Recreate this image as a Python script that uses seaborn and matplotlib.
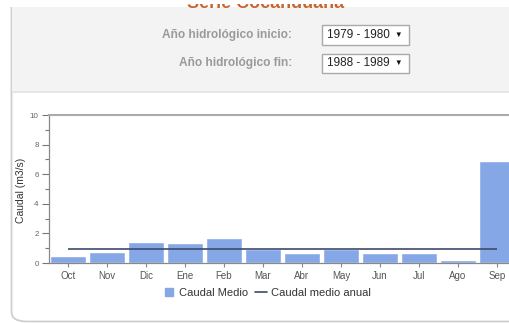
import matplotlib
matplotlib.use("Agg")
import matplotlib.pyplot as plt
from matplotlib.patches import Rectangle, FancyBboxPatch
from matplotlib.lines import Line2D
import seaborn as sns
import pandas as pd

# Monthly mean discharge for the selected hydrological years
months = ["Oct", "Nov", "Dic", "Ene", "Feb", "Mar", "Abr", "May", "Jun", "Jul", "Ago", "Sep"]
caudal_medio = [0.45, 0.72, 1.39, 1.32, 1.66, 0.94, 0.65, 0.95, 0.65, 0.65, 0.18, 6.92]
caudal_medio_anual = 0.92
y_ticks = [0, 2, 4, 6, 8, 10]
anio_inicio = "1979 - 1980"
anio_fin = "1988 - 1989"

W, H = 509, 323
BAR_COLOR = "#86a7e6"
LINE_COLOR = "#3e4a6c"

sns.set_style("white")
plt.rcParams["font.family"] = ["Liberation Sans", "DejaVu Sans"]


def fx(x):
    return x / W


def fy(y):
    return 1 - y / H


fig = plt.figure(figsize=(W / 100, H / 100), dpi=100)
fig.patch.set_facecolor("white")

# Page panels: rounded card, grey form header, separator
card = FancyBboxPatch((fx(11.5), fy(321.5)), fx(560), fy(-40) - fy(321.5),
                      boxstyle="round,pad=0,rounding_size=0.03",
                      transform=fig.transFigure, facecolor="white",
                      edgecolor="#cfcfcf", linewidth=1.3, zorder=-5)
fig.patches.append(card)
fig.patches.append(Rectangle((fx(12), fy(91)), fx(520), fy(7) - fy(91),
                             transform=fig.transFigure, facecolor="#f3f3f3",
                             edgecolor="none", zorder=-4))
fig.patches.append(Rectangle((fx(12), fy(92.5)), fx(520), fy(91) - fy(92.5),
                             transform=fig.transFigure, facecolor="#e6e6e6",
                             edgecolor="none", zorder=-4))
fig.patches.append(Rectangle((0, fy(7)), 1, fy(0) - fy(7),
                             transform=fig.transFigure, facecolor="white",
                             edgecolor="none", zorder=-3))

# Title, scrolled under the fixed page header
fig.text(fx(266), fy(8.5), "Serie Cocanduana", ha="center", va="baseline",
         fontsize=13, fontweight="bold", color="#c8652c", zorder=3)
fig.patches.append(Rectangle((0, fy(4.3)), 1, fy(0) - fy(4.3),
                             transform=fig.transFigure, facecolor="white",
                             edgecolor="none", zorder=10))

# Form: hydrological year selectors
for label, value, yc in [("Año hidrológico inicio:", anio_inicio, 35),
                         ("Año hidrológico fin:", anio_fin, 63)]:
    fig.text(fx(292), fy(yc), label, ha="right", va="center",
             fontsize=8.6, fontweight="bold", color="#9a9a9a")
    fig.patches.append(Rectangle((fx(321.5), fy(yc + 9.5)), fx(87.5), fy(yc - 9.5) - fy(yc + 9.5),
                                 transform=fig.transFigure, facecolor="white",
                                 edgecolor="#a9a9a9", linewidth=1.0, zorder=-2))
    fig.text(fx(327), fy(yc), value, ha="left", va="center",
             fontsize=8.5, color="#222222")
    fig.text(fx(398.5), fy(yc), "▼", ha="center", va="center",
             fontsize=5.5, color="#111111")

# Chart axes (right end runs past the visible area)
ax_left, ax_right = 48.5, 516.5
ax_top, ax_bottom = 115, 263
ax = fig.add_axes([fx(ax_left), fy(ax_bottom), fx(ax_right - ax_left), fy(ax_top) - fy(ax_bottom)])
ax.set_facecolor("none")

df = pd.DataFrame({"mes": months, "caudal": caudal_medio})
sns.barplot(data=df, x="mes", y="caudal", color=BAR_COLOR, saturation=1,
            width=0.9, ax=ax, zorder=2)
ax.hlines(caudal_medio_anual, 0, len(months) - 1, color=LINE_COLOR,
          linewidth=1.2, zorder=3)

ax.set_xlim(-0.5, len(months) - 0.5)
ax.set_ylim(y_ticks[0], y_ticks[-1])
ax.set_yticks(y_ticks)
ax.set_yticks([v + 1 for v in y_ticks[:-1]], minor=True)
ax.tick_params(axis="y", which="major", length=5, width=0.8, color="#777777",
               labelsize=5.8, labelcolor="#666666", pad=2, left=True)
ax.tick_params(axis="y", which="minor", length=3, width=0.8, color="#777777", left=True)
ax.tick_params(axis="x", length=3, width=0.8, color="#888888",
               labelsize=7, labelcolor="#555555", pad=3, bottom=True)

for side in ["left", "bottom"]:
    ax.spines[side].set_color("#888888")
    ax.spines[side].set_linewidth(0.9)
ax.spines["top"].set_color("#aaaaaa")
ax.spines["top"].set_linewidth(1.5)
ax.spines["right"].set_visible(False)

ax.set_xlabel("")
ax.set_ylabel("Caudal (m3/s)", fontsize=7.5, color="#333333")
ax.yaxis.set_label_coords((26 - ax_left) / (ax_right - ax_left), 0.49)

handles = [
    Line2D([], [], marker="s", linestyle="none", markersize=6,
           markerfacecolor=BAR_COLOR, markeredgecolor=BAR_COLOR),
    Line2D([], [], color=LINE_COLOR, linewidth=1.2),
]
fig.legend(handles, ["Caudal Medio", "Caudal medio anual"], loc="center",
           bbox_to_anchor=(fx(267), fy(293)), ncol=2, frameon=False,
           fontsize=8, handlelength=1.1, handletextpad=0.35,
           columnspacing=0.6, labelcolor="#333333")

fig.savefig("out.png", dpi=100)
